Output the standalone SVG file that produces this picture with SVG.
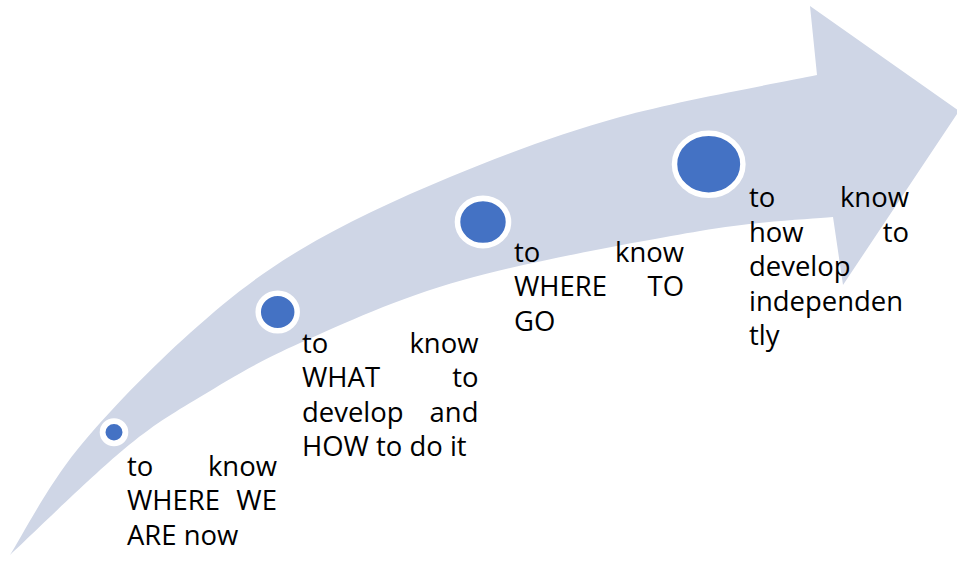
<svg xmlns="http://www.w3.org/2000/svg" width="957" height="562" viewBox="0 0 957 562">
  <style>
    .band { fill: #CFD6E6; stroke: none; }
    .dot { fill: #4472C4; stroke: #FFFFFF; }
    .lbl { font-family: "Open Sans", "Liberation Sans", sans-serif; font-size: 26.4px; fill: #000000; }
    .r { text-anchor: end; }
  </style>
  <rect width="957" height="562" fill="#FFFFFF"/>
  <g id="arrow">
    <path class="band" d="M10,555 C21.2,537.5 47,487 77,450 C107,413 152.8,366.3 190,333 C227.2,299.7 256.7,276 300,250 C343.3,224 396.7,199.2 450,177 C503.3,154.8 558.8,134 620,117 C681.2,100 784.2,82 817,75 L810,6 L959,111 L843,285 L833,217 C810.8,219.3 761.7,220.5 700,231 C638.3,241.5 529.7,261.3 463,280 C396.3,298.7 343.8,323.5 300,343 C256.2,362.5 229.5,379.2 200,397 C170.5,414.8 154.7,423.7 123,450 C91.3,476.3 28.8,537.5 10,555 Z"/>
  </g>
  <g id="connectors"></g>
  <g id="step1">
    <ellipse class="dot" cx="114" cy="432.3" rx="11.4" ry="11.1" stroke-width="5.8"/>
    <g class="lbl" transform="translate(127,0) scale(1.04,1)">
      <text x="0" y="476">to</text><text class="r" x="144.2" y="476">know</text>
      <text x="0" y="510.5">WHERE</text><text class="r" x="144.2" y="510.5">WE</text>
      <text x="0" y="545">ARE now</text>
    </g>
  </g>
  <g id="step2">
    <ellipse class="dot" cx="277.7" cy="312" rx="19.5" ry="18.8" stroke-width="5.5"/>
    <g class="lbl" transform="translate(302,0) scale(1.04,1)">
      <text x="0" y="353">to</text><text class="r" x="169.7" y="353">know</text>
      <text x="0" y="387.5">WHAT</text><text class="r" x="169.7" y="387.5">to</text>
      <text x="0" y="422">develop</text><text class="r" x="169.7" y="422">and</text>
      <text x="0" y="456.5">HOW to do it</text>
    </g>
  </g>
  <g id="step3">
    <ellipse class="dot" cx="483" cy="222" rx="25.5" ry="23.6" stroke-width="5.6"/>
    <g class="lbl" transform="translate(514,0) scale(1.04,1)">
      <text x="0" y="262">to</text><text class="r" x="163.5" y="262">know</text>
      <text x="0" y="296.5">WHERE</text><text class="r" x="163.5" y="296.5">TO</text>
      <text x="0" y="331">GO</text>
    </g>
  </g>
  <g id="step4">
    <ellipse class="dot" cx="708.7" cy="164.2" rx="34.2" ry="31" stroke-width="5.5"/>
    <g class="lbl" transform="translate(749,0) scale(1.04,1)">
      <text x="0" y="207.5">to</text><text class="r" x="153.8" y="207.5">know</text>
      <text x="0" y="242">how</text><text class="r" x="153.8" y="242">to</text>
      <text x="0" y="276.5">develop</text>
      <text x="0" y="311">independen</text>
      <text x="0" y="345.5">tly</text>
    </g>
  </g>
</svg>
